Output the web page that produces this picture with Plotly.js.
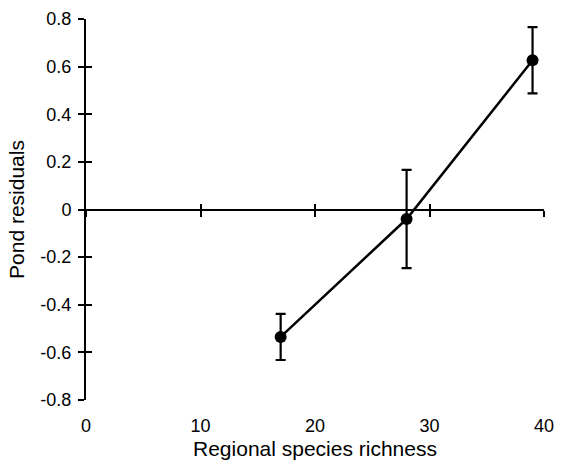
<!DOCTYPE html>
<html>
<head>
<meta charset="utf-8">
<script src="https://cdn.plot.ly/plotly-3.0.1.min.js"></script>
<style>html,body{margin:0;padding:0;background:#fff;}#chart{width:562px;height:465px;}</style>
</head>
<body>
<div id="chart"></div>
<script>
// Data
const richness = [17, 28, 39];
const residuals = [-0.535, -0.04, 0.627];
const errors = [0.097, 0.206, 0.139];

const xTickVals = [0, 10, 20, 30, 40];
const xTickText = ["0", "10", "20", "30", "40"];
const yTickVals = [-0.8, -0.6, -0.4, -0.2, 0, 0.2, 0.4, 0.6, 0.8];
const yTickText = ["-0.8", "-0.6", "-0.4", "-0.2", "0", "0.2", "0.4", "0.6", "0.8"];

const FONT = "Liberation Sans, Arial, Helvetica, sans-serif";

const traces = [
  {
    x: richness, y: residuals, type: "scatter", mode: "lines+markers",
    line: {color: "#000", width: 2.5},
    marker: {color: "#000", size: 12, symbol: "circle"},
    error_y: {type: "data", array: errors, visible: true, color: "#000", thickness: 2.2, width: 5},
    showlegend: false, hoverinfo: "skip"
  },
  {x: [], y: [], xaxis: "x2", yaxis: "y", showlegend: false, hoverinfo: "skip"},
  {x: [], y: [], xaxis: "x3", yaxis: "y", showlegend: false, hoverinfo: "skip"},
  {x: [], y: [], xaxis: "x", yaxis: "y2", showlegend: false, hoverinfo: "skip"}
];

const layout = {
  width: 562, height: 465,
  margin: {l: 86, r: 18, t: 19, b: 65},
  paper_bgcolor: "#fff", plot_bgcolor: "#fff",
  font: {family: FONT, color: "#000", size: 18},
  showlegend: false,
  xaxis: {
    range: [0, 40], tickmode: "array", tickvals: xTickVals, ticktext: xTickText,
    showline: false, showgrid: false, zeroline: false, ticks: "",
    tickfont: {size: 18, family: FONT, color: "#000"},
    ticklabelstandoff: 13,
    title: {text: "Regional species richness", font: {size: 21, family: FONT, color: "#000"}, standoff: 6}
  },
  xaxis2: {
    overlaying: "x", anchor: "free", position: 0.5, range: [0, 40],
    tickmode: "array", tickvals: xTickVals, showticklabels: false,
    showline: true, linewidth: 2, linecolor: "#000",
    ticks: "outside", ticklen: 6, tickwidth: 2, tickcolor: "#000",
    showgrid: false, zeroline: false
  },
  xaxis3: {
    overlaying: "x", anchor: "free", position: 0.5, range: [0, 40],
    tickmode: "array", tickvals: xTickVals, showticklabels: false,
    showline: false,
    ticks: "inside", ticklen: 6, tickwidth: 2, tickcolor: "#000",
    showgrid: false, zeroline: false
  },
  yaxis: {
    range: [-0.8, 0.8], tickmode: "array", tickvals: yTickVals, ticktext: yTickText,
    showline: true, linewidth: 2, linecolor: "#000",
    ticks: "outside", ticklen: 6, tickwidth: 2, tickcolor: "#000",
    showgrid: false, zeroline: false,
    tickfont: {size: 18, family: FONT, color: "#000"},
    ticklabelstandoff: 3,
    title: {text: "Pond residuals", font: {size: 21, family: FONT, color: "#000"}, standoff: 10}
  },
  yaxis2: {
    overlaying: "y", anchor: "x", side: "left", range: [-0.8, 0.8],
    tickmode: "array", tickvals: yTickVals, showticklabels: false,
    showline: false,
    ticks: "inside", ticklen: 6, tickwidth: 2, tickcolor: "#000",
    showgrid: false, zeroline: false
  }
};

Plotly.newPlot("chart", traces, layout, {staticPlot: true, displayModeBar: false});
</script>
</body>
</html>
